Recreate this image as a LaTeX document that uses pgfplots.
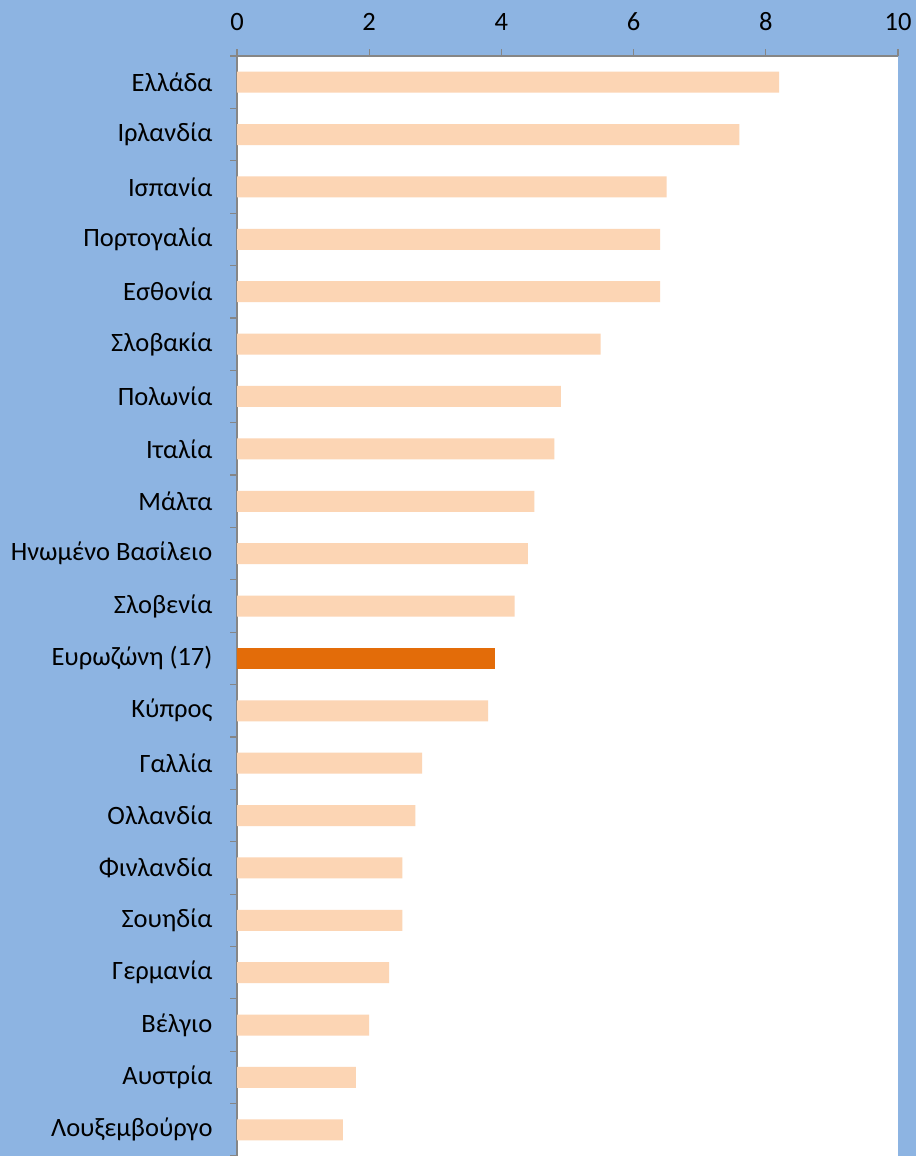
\documentclass[border=0pt]{standalone}
\usepackage{fontspec}
\setmainfont{Carlito}
\usepackage{pgfplots}
\pgfplotsset{compat=1.18}
\definecolor{bgblue}{RGB}{141,180,226}
\definecolor{barpeach}{RGB}{252,213,180}
\definecolor{barorange}{RGB}{227,108,9}
\definecolor{axisgray}{RGB}{134,134,134}

\begin{document}
\begin{tikzpicture}[x=1pt,y=1pt]
% chart background and white plotting area
\fill[bgblue] (0,0) rectangle (916,1156);
\fill[white] (237,0) rectangle (898,1100);
\useasboundingbox (0,0) rectangle (916,1156);
\begin{axis}[
  at={(237pt,0pt)}, anchor=south west,
  scale only axis, width=661pt, height=1100pt,
  xmin=0, xmax=10, ymin=-0.5, ymax=20.5,
  y dir=reverse,
  axis x line*=top, axis y line*=left,
  axis line style={draw=axisgray, line width=1.2pt, -},
  xtick={0,2,...,10},
  ytick={0,...,20},
  yticklabels={Ελλάδα,Ιρλανδία,Ισπανία,Πορτογαλία,Εσθονία,Σλοβακία,Πολωνία,Ιταλία,Μάλτα,Ηνωμένο Βασίλειο,Σλοβενία,Ευρωζώνη (17),Κύπρος,Γαλλία,Ολλανδία,Φινλανδία,Σουηδία,Γερμανία,Βέλγιο,Αυστρία,Λουξεμβούργο},
  minor ytick={-0.5,0.5,...,20.5},
  major y tick style={draw=none},
  tick style={draw=axisgray, line width=1.2pt},
  tick align=outside,
  major tick length=7pt, minor tick length=7pt,
  /pgf/number format/assume math mode=true,
  tick label style={font=\fontsize{26.5}{31}\selectfont, text=black},
  xticklabel style={yshift=15pt},
  yticklabel style={xshift=-14pt},
  xbar, bar width=21pt, bar shift=0pt,
  clip=false,
]
\addplot[fill=barpeach, draw=none] coordinates {
  (8.2,0) (7.6,1) (6.5,2) (6.4,3) (6.4,4) (5.5,5) (4.9,6) (4.8,7)
  (4.5,8) (4.4,9) (4.2,10) (3.8,12) (2.8,13) (2.7,14) (2.5,15)
  (2.5,16) (2.3,17) (2.0,18) (1.8,19) (1.6,20)
};
\addplot[fill=barorange, draw=none] coordinates {(3.9,11)};
\end{axis}
% blue margin to the right of the plotting area
\fill[bgblue] (897.5,0) rectangle (916,1099.4);
\end{tikzpicture}
\end{document}
